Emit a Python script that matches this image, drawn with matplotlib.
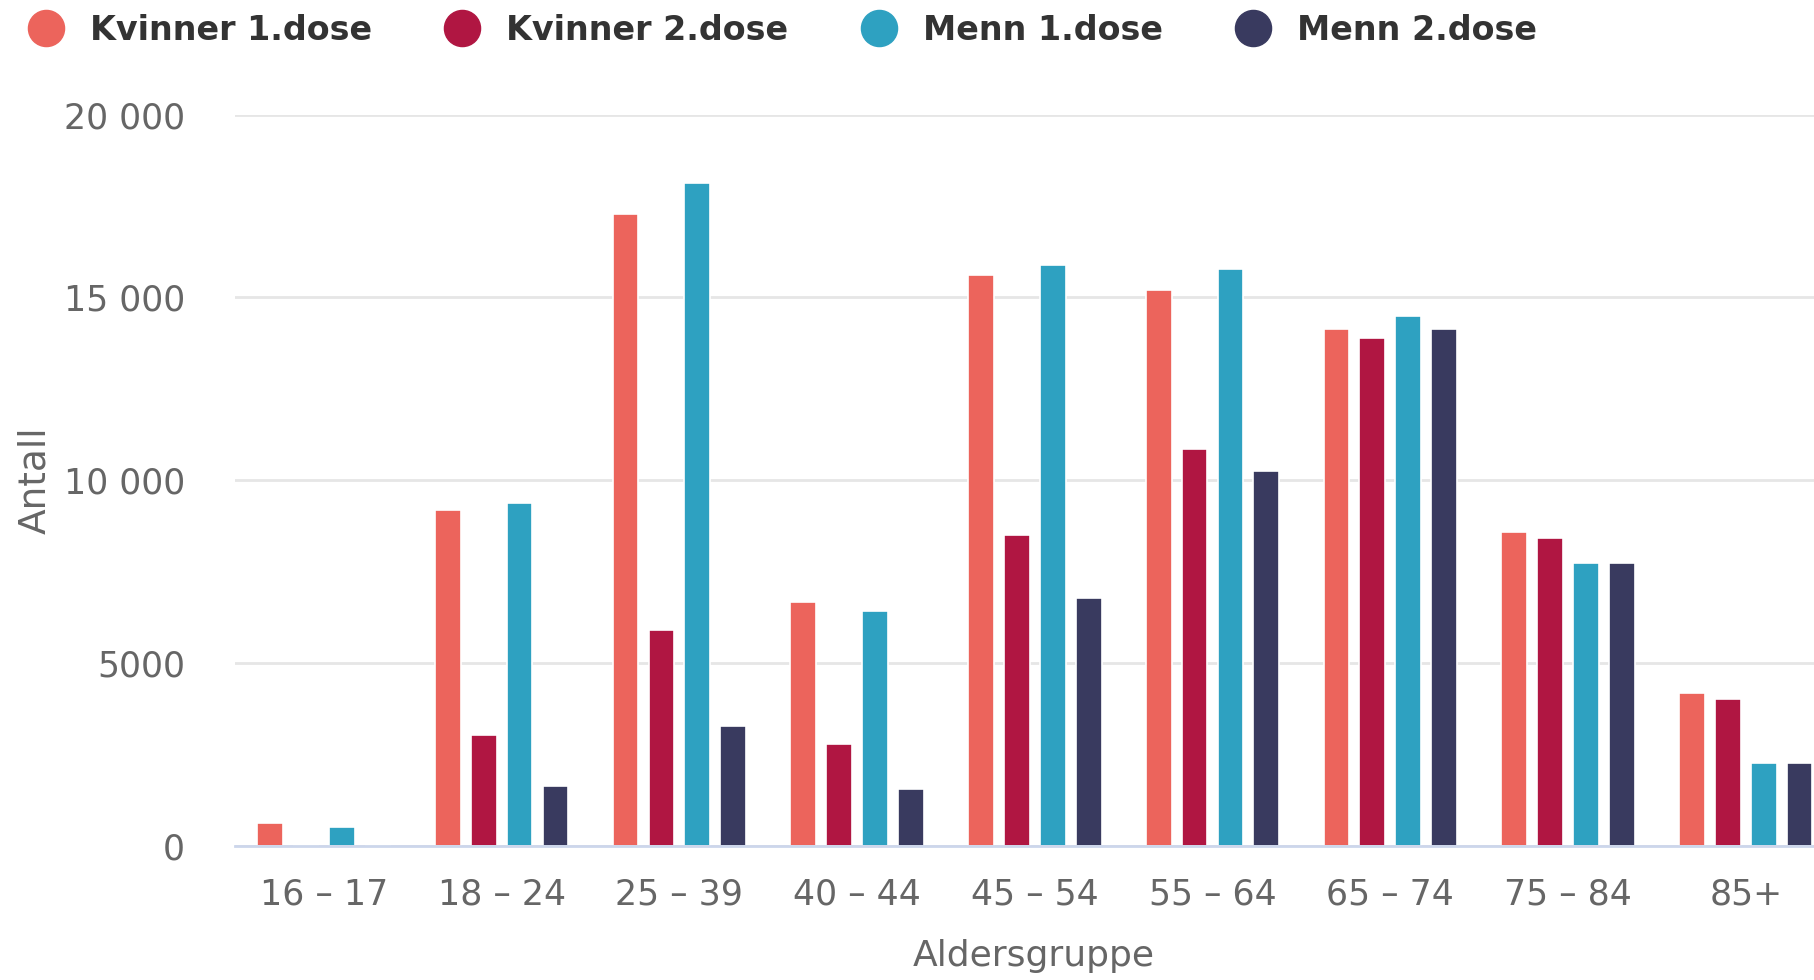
import numpy as np
import matplotlib
matplotlib.use("Agg")
import matplotlib.pyplot as plt
from matplotlib.lines import Line2D

# age groups and counts per series
groups = ["16 – 17", "18 – 24", "25 – 39", "40 – 44", "45 – 54",
          "55 – 64", "65 – 74", "75 – 84", "85+"]
kvinner_1 = [620, 9200, 17280, 6680, 15600, 15190, 14150, 8600, 4190]
kvinner_2 = [0, 3040, 5920, 2780, 8510, 10850, 13890, 8430, 4010]
menn_1 = [530, 9370, 18130, 6420, 15890, 15790, 14490, 7740, 2270]
menn_2 = [0, 1650, 3290, 1550, 6770, 10250, 14150, 7740, 2270]

series_names = ["Kvinner 1.dose", "Kvinner 2.dose", "Menn 1.dose", "Menn 2.dose"]
colors = ["#ec645c", "#b01642", "#2ea1c1", "#393a5f"]
yticks = [0, 5000, 10000, 15000, 20000]
ytick_labels = ["0", "5000", "10 000", "15 000", "20 000"]

fig = plt.figure(figsize=(18.15, 9.8), dpi=100)
ax = fig.add_axes([0.1295, 0.1367, 0.8705, 0.7464])

x = np.arange(len(groups))
pitch = 0.202
width = 0.145
all_series = [kvinner_1, kvinner_2, menn_1, menn_2]
for i, vals in enumerate(all_series):
    ax.bar(x + (i - 1.5) * pitch, vals, width=width, color=colors[i],
           edgecolor="white", linewidth=1.2, zorder=3)

ax.set_xlim(-0.5, 8.39)
ax.set_ylim(0, 20000)
ax.set_yticks(yticks)
ax.set_yticklabels(ytick_labels)
ax.set_xticks(x)
ax.set_xticklabels(groups)

for s in ["top", "right", "left"]:
    ax.spines[s].set_visible(False)
ax.spines["bottom"].set_color("#ccd6eb")
ax.spines["bottom"].set_linewidth(2)
ax.spines["bottom"].set_zorder(4)

ax.yaxis.grid(True, color="#e6e6e6", linewidth=2)
ax.set_axisbelow(True)
ax.tick_params(axis="both", length=0, labelsize=25, labelcolor="#666666")
ax.tick_params(axis="y", pad=36)
ax.tick_params(axis="x", pad=23)

ax.set_xlabel("Aldersgruppe", fontsize=26, color="#666666", va="center")
ax.xaxis.set_label_coords(0.5055, -0.150)
ax.set_ylabel("Antall", fontsize=27, color="#666666", va="center")
ax.yaxis.set_label_coords(-0.1266, 0.50)

handles = [Line2D([], [], linestyle="none", marker="o", markersize=26,
                  markerfacecolor=c, markeredgecolor=c) for c in colors]
leg = fig.legend(handles, series_names, loc="upper left", ncol=4,
                 bbox_to_anchor=(0.009, 0.996), frameon=False,
                 prop={"size": 24, "weight": "bold"},
                 handlelength=1.2, handletextpad=0.72, columnspacing=2.1,
                 borderpad=0.3, borderaxespad=0)
for t in leg.get_texts():
    t.set_color("#333333")

fig.savefig("out.png", dpi=100)
